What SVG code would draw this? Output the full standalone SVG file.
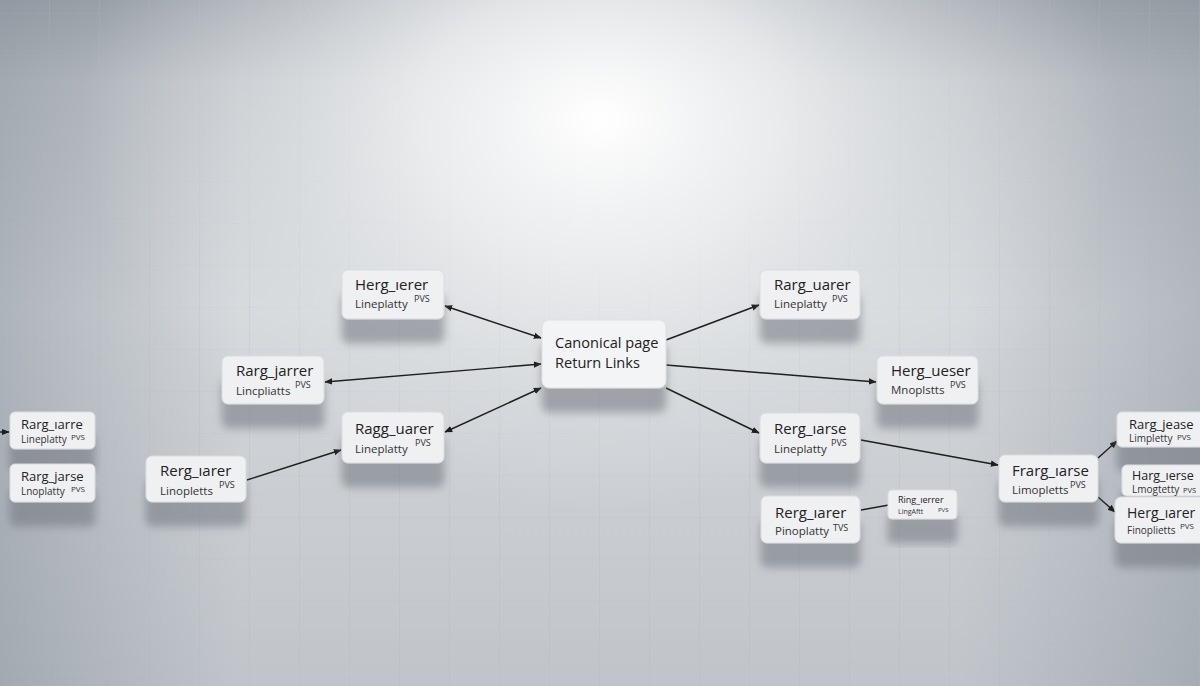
<svg xmlns="http://www.w3.org/2000/svg" width="1200" height="686" viewBox="0 0 1200 686">
<defs>
<linearGradient id="bgv" x1="0" y1="0" x2="0" y2="1">
<stop offset="0" stop-color="#a3a9b0"/>
<stop offset="0.12" stop-color="#c6cace"/>
<stop offset="0.45" stop-color="#dcdfe2"/>
<stop offset="1" stop-color="#c6cacf"/>
</linearGradient>
<radialGradient id="glow" cx="600" cy="120" r="520" gradientUnits="userSpaceOnUse" gradientTransform="translate(600 120) scale(1 0.75) translate(-600 -120)">
<stop offset="0" stop-color="#ffffff" stop-opacity="1"/>
<stop offset="0.35" stop-color="#f2f3f4" stop-opacity="0.8"/>
<stop offset="0.75" stop-color="#e4e6e8" stop-opacity="0.3"/>
<stop offset="1" stop-color="#e4e6e8" stop-opacity="0"/>
</radialGradient>
<linearGradient id="vig" x1="0" y1="0" x2="1" y2="0">
<stop offset="0" stop-color="#7f8893" stop-opacity="0.5"/>
<stop offset="0.2" stop-color="#8a929b" stop-opacity="0.1"/>
<stop offset="0.8" stop-color="#8a929b" stop-opacity="0.1"/>
<stop offset="1" stop-color="#7f8893" stop-opacity="0.45"/>
</linearGradient>
<pattern id="grid" width="50" height="42" patternUnits="userSpaceOnUse" x="0" y="14">
<path d="M50 0V42" stroke="#b0b5ba" stroke-width="1" stroke-opacity="0.55" fill="none"/>
<path d="M0 42H50" stroke="#b0b5ba" stroke-width="1" stroke-opacity="0.25" fill="none"/>
</pattern>
<filter id="sh" x="-20%" y="-20%" width="140%" height="220%">
<feDropShadow dx="0" dy="24" stdDeviation="4" flood-color="#6f767d" flood-opacity="0.55"/>
</filter>
<marker id="ah" viewBox="0 0 10 10" refX="9" refY="5" markerWidth="8" markerHeight="8" markerUnits="userSpaceOnUse" orient="auto-start-reverse">
<path d="M0 1L10 5L0 9z" fill="#1e1e1e"/>
</marker>
<style>
.box{fill:#eef0f2;stroke:#d9dcdf;stroke-width:1;filter:url(#sh)}
.cbox{fill:#f3f4f5;stroke:#dcdfe2;stroke-width:1;filter:url(#sh)}
.t{font-family:"Open Sans","Noto Sans",sans-serif;font-size:15px;fill:#222}
.s{font-family:"Open Sans","Noto Sans",sans-serif;font-size:11.5px;fill:#333}
.p{font-family:"Open Sans","Noto Sans",sans-serif;font-size:9px;fill:#333}
.ts{font-size:13px}
.ss{font-size:10px}
.c{font-family:"Open Sans","Noto Sans",sans-serif;font-size:14.6px;fill:#222}
.ln{stroke:#1e1e1e;stroke-width:1.4;fill:none}
</style>
</defs>
<rect width="1200" height="686" fill="url(#bgv)"/>
<rect width="1200" height="686" fill="url(#vig)"/>
<rect width="1200" height="686" fill="url(#grid)"/>
<rect width="1200" height="686" fill="url(#glow)"/>

<g id="connectors">
<line class="ln" x1="541" y1="338" x2="445" y2="306" marker-start="url(#ah)" marker-end="url(#ah)"/>
<line class="ln" x1="541" y1="364" x2="325" y2="382" marker-start="url(#ah)" marker-end="url(#ah)"/>
<line class="ln" x1="541" y1="388" x2="445" y2="432" marker-start="url(#ah)" marker-end="url(#ah)"/>
<line class="ln" x1="247" y1="480" x2="341" y2="450" marker-end="url(#ah)"/>
<line class="ln" x1="0" y1="432" x2="9" y2="432" marker-end="url(#ah)"/>
<line class="ln" x1="666" y1="340" x2="759" y2="305" marker-end="url(#ah)"/>
<line class="ln" x1="666" y1="365" x2="876" y2="382" marker-end="url(#ah)"/>
<line class="ln" x1="666" y1="388" x2="759" y2="433" marker-end="url(#ah)"/>
<line class="ln" x1="861" y1="440" x2="998" y2="465" marker-end="url(#ah)"/>
<line class="ln" x1="861" y1="510" x2="889" y2="505"/>
<line class="ln" x1="1098" y1="458" x2="1117" y2="441" marker-end="url(#ah)"/>
<line class="ln" x1="1098" y1="497" x2="1115" y2="512" marker-end="url(#ah)"/>
</g>

<g id="node-center">
<rect class="cbox" x="542" y="320" width="124" height="68" rx="7"/>
<text class="c" x="555" y="348">Canonical page</text>
<text class="c" x="555" y="368">Return Links</text>
</g>

<g id="node1">
<rect class="box" x="342" y="270" width="102" height="49" rx="6"/>
<text class="t" x="355" y="290">Herg_ıerer</text>
<text class="s" x="355" y="308">Lineplatty</text>
<text class="p" x="414" y="302">PVS</text>
</g>
<g id="node2">
<rect class="box" x="222" y="356" width="102" height="48" rx="6"/>
<text class="t" x="236" y="376">Rarg_jarrer</text>
<text class="s" x="236" y="395">Lincpliatts</text>
<text class="p" x="295" y="388">PVS</text>
</g>
<g id="node3">
<rect class="box" x="342" y="412" width="102" height="51" rx="6"/>
<text class="t" x="355" y="434">Ragg_uarer</text>
<text class="s" x="355" y="453">Lineplatty</text>
<text class="p" x="415" y="446">PVS</text>
</g>
<g id="node4">
<rect class="box" x="146" y="456" width="100" height="46" rx="6"/>
<text class="t" x="160" y="476">Rerg_ıarer</text>
<text class="s" x="160" y="495">Linopletts</text>
<text class="p" x="219" y="488">PVS</text>
</g>
<g id="node5">
<rect class="box" x="10" y="412" width="85" height="37" rx="5"/>
<text class="t ts" x="21" y="429">Rarg_ıarre</text>
<text class="s ss" x="21" y="443">Lineplatty</text>
<text class="p" x="71" y="440" style="font-size:8px">PVS</text>
</g>
<g id="node6">
<rect class="box" x="10" y="464" width="85" height="38" rx="5"/>
<text class="t ts" x="21" y="481">Rarg_jarse</text>
<text class="s ss" x="21" y="495">Lnoplatty</text>
<text class="p" x="71" y="492" style="font-size:8px">PVS</text>
</g>
<g id="node8">
<rect class="box" x="760" y="270" width="100" height="49" rx="6"/>
<text class="t" x="774" y="290">Rarg_uarer</text>
<text class="s" x="774" y="308">Lineplatty</text>
<text class="p" x="832" y="302">PVS</text>
</g>
<g id="node9">
<rect class="box" x="877" y="356" width="101" height="48" rx="6"/>
<text class="t" x="891" y="376">Herg_ueser</text>
<text class="s" x="891" y="394">Mnoplstts</text>
<text class="p" x="950" y="388">PVS</text>
</g>
<g id="node10">
<rect class="box" x="760" y="413" width="100" height="50" rx="6"/>
<text class="t" x="774" y="434">Rerg_ıarse</text>
<text class="s" x="774" y="453">Lineplatty</text>
<text class="p" x="831" y="446">PVS</text>
</g>
<g id="node11">
<rect class="box" x="761" y="496" width="99" height="47" rx="6"/>
<text class="t" x="775" y="518">Rerg_ıarer</text>
<text class="s" x="775" y="535">Pinoplatty</text>
<text class="p" x="833" y="531">TVS</text>
</g>
<g id="node12">
<rect class="box" x="888" y="490" width="69" height="29" rx="4"/>
<text class="t" x="898" y="503" style="font-size:9px">Ring_ıerrer</text>
<text class="s" x="898" y="514" style="font-size:7px">LingAftt</text>
<text class="p" x="938" y="512" style="font-size:6px">PVS</text>
</g>
<g id="node13">
<rect class="box" x="999" y="455" width="99" height="47" rx="6"/>
<text class="t" x="1012" y="476">Frarg_ıarse</text>
<text class="s" x="1012" y="494">Limopletts</text>
<text class="p" x="1070" y="488">PVS</text>
</g>
<g id="node14">
<rect class="box" x="1117" y="412" width="90" height="35" rx="5"/>
<text class="t ts" x="1129" y="429">Rarg_jease</text>
<text class="s ss" x="1129" y="442">Limpletty</text>
<text class="p" x="1177" y="440" style="font-size:8px">PVS</text>
</g>
<g id="node15">
<rect class="box" x="1122" y="465" width="85" height="31" rx="5"/>
<text class="t" x="1132" y="480" style="font-size:12.5px">Harg_ıerse</text>
<text class="s ss" x="1132" y="493">Lmogtetty</text>
<text class="p" x="1183" y="493" style="font-size:7.5px">PVS</text>
</g>
<g id="node16">
<rect class="box" x="1115" y="497" width="92" height="46" rx="6"/>
<text class="t" x="1127" y="518" style="font-size:14px">Herg_ıarer</text>
<text class="s ss" x="1127" y="534">Finoplietts</text>
<text class="p" x="1180" y="529" style="font-size:8px">PVS</text>
</g>
</svg>
